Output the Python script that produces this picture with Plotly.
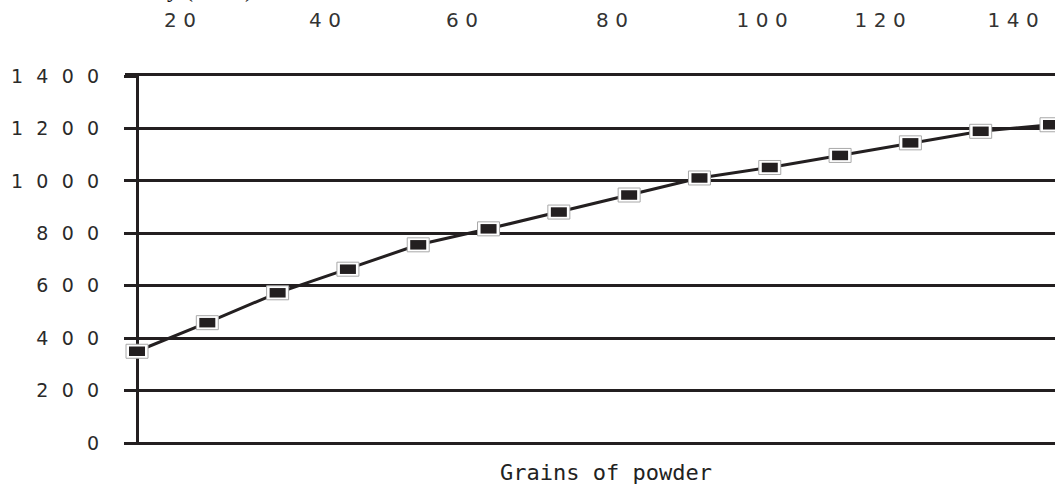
import plotly.graph_objects as go

# ---- data ----
grains = [10, 20, 30, 40, 50, 60, 70, 80, 90, 100, 110, 120, 130, 140]
velocity = [350, 459, 573, 663, 756, 817, 881, 946, 1011, 1051, 1097, 1145, 1189, 1214]
y_tick_values = [0, 200, 400, 600, 800, 1000, 1200, 1400]
top_tick_labels = ["20", "40", "60", "80", "100", "120", "140"]
x_title = "Grains of powder"
y_title = "Velocity (ft/sec)"

DARK = "#231f20"


def spaced(s, sep):
    return sep.join(list(s))


fig = go.Figure()
fig.add_trace(go.Scatter(
    x=grains, y=velocity, mode="lines",
    line=dict(color=DARK, width=3),
    hoverinfo="skip", showlegend=False,
))

# rectangular markers (pixel sized, anchored at data points)
shapes = []
for gx, vy in zip(grains, velocity):
    shapes.append(dict(type="rect", xref="x", yref="y", layer="above",
                       xsizemode="pixel", ysizemode="pixel",
                       xanchor=gx, yanchor=vy, x0=-11, x1=11, y0=-7, y1=7,
                       fillcolor="white", line=dict(color="#a8a8a8", width=1)))
    shapes.append(dict(type="rect", xref="x", yref="y", layer="above",
                       xsizemode="pixel", ysizemode="pixel",
                       xanchor=gx, yanchor=vy, x0=-8, x1=8, y0=-4.75, y1=4.75,
                       fillcolor=DARK, line=dict(width=0)))

# geometry
left_px, axis_px, right_px = 125, 137, 1055
px_per_unit = 7.03
x_start = grains[0] - (axis_px - left_px) / px_per_unit
x_end = grains[-1] + (right_px - 1051) / px_per_unit
plot_w = right_px - left_px
plot_h = 487 - 76 - 44

top_tick_px = [180, 325, 462, 612, 762, 880, 1013]
top_tickvals = [x_start + (p - left_px) / px_per_unit for p in top_tick_px]

fig.update_layout(
    width=1055, height=487,
    margin=dict(l=left_px, r=0, t=76, b=44),
    paper_bgcolor="white", plot_bgcolor="white",
    shapes=shapes,
    showlegend=False,
    xaxis=dict(
        range=[x_start, x_end], showgrid=False, zeroline=False,
        showticklabels=False, ticks="", showline=False,
    ),
    xaxis2=dict(
        overlaying="x", side="top", range=[x_start, x_end],
        tickvals=top_tickvals, ticktext=[spaced(t, "\u2004") for t in top_tick_labels],
        tickfont=dict(family="DejaVu Sans", size=20, color="#333"),
        showgrid=False, zeroline=False, showline=True, linecolor=DARK, linewidth=3,
        ticks="", ticklabelstandoff=38,
    ),
    yaxis=dict(
        range=[0, 1400], anchor="free", position=(axis_px - left_px) / plot_w,
        tickvals=y_tick_values,
        ticktext=[spaced(str(v), "\u2002\u2009") for v in y_tick_values],
        tickfont=dict(family="DejaVu Sans", size=19, color="#2a2a2a"),
        showgrid=True, gridcolor=DARK, gridwidth=3,
        zeroline=True, zerolinecolor=DARK, zerolinewidth=3,
        showline=True, linecolor=DARK, linewidth=3,
        ticks="outside", ticklen=12, tickwidth=3, tickcolor=DARK,
        ticklabelstandoff=21,
    ),
    annotations=[
        dict(text=y_title, xref="paper", yref="paper", x=(97 - left_px) / plot_w,
             y=1.19 + 2 / plot_h, xanchor="left", yanchor="bottom", showarrow=False,
             font=dict(family="Liberation Serif", size=24, color="#111")),
        dict(text=x_title, xref="paper", yref="paper", x=(606 - left_px) / plot_w,
             y=-(472 - 443) / plot_h, xanchor="center", yanchor="middle", showarrow=False,
             font=dict(family="DejaVu Sans Mono", size=22, color="#222")),
    ],
)
# attach an invisible trace to xaxis2 so it renders
fig.add_trace(go.Scatter(x=[grains[0]], y=[velocity[0]], xaxis="x2", mode="markers",
                         marker=dict(opacity=0), hoverinfo="skip", showlegend=False))

fig.write_html("out.html", config={"displayModeBar": False},
               post_script="document.body.style.margin='0';")
